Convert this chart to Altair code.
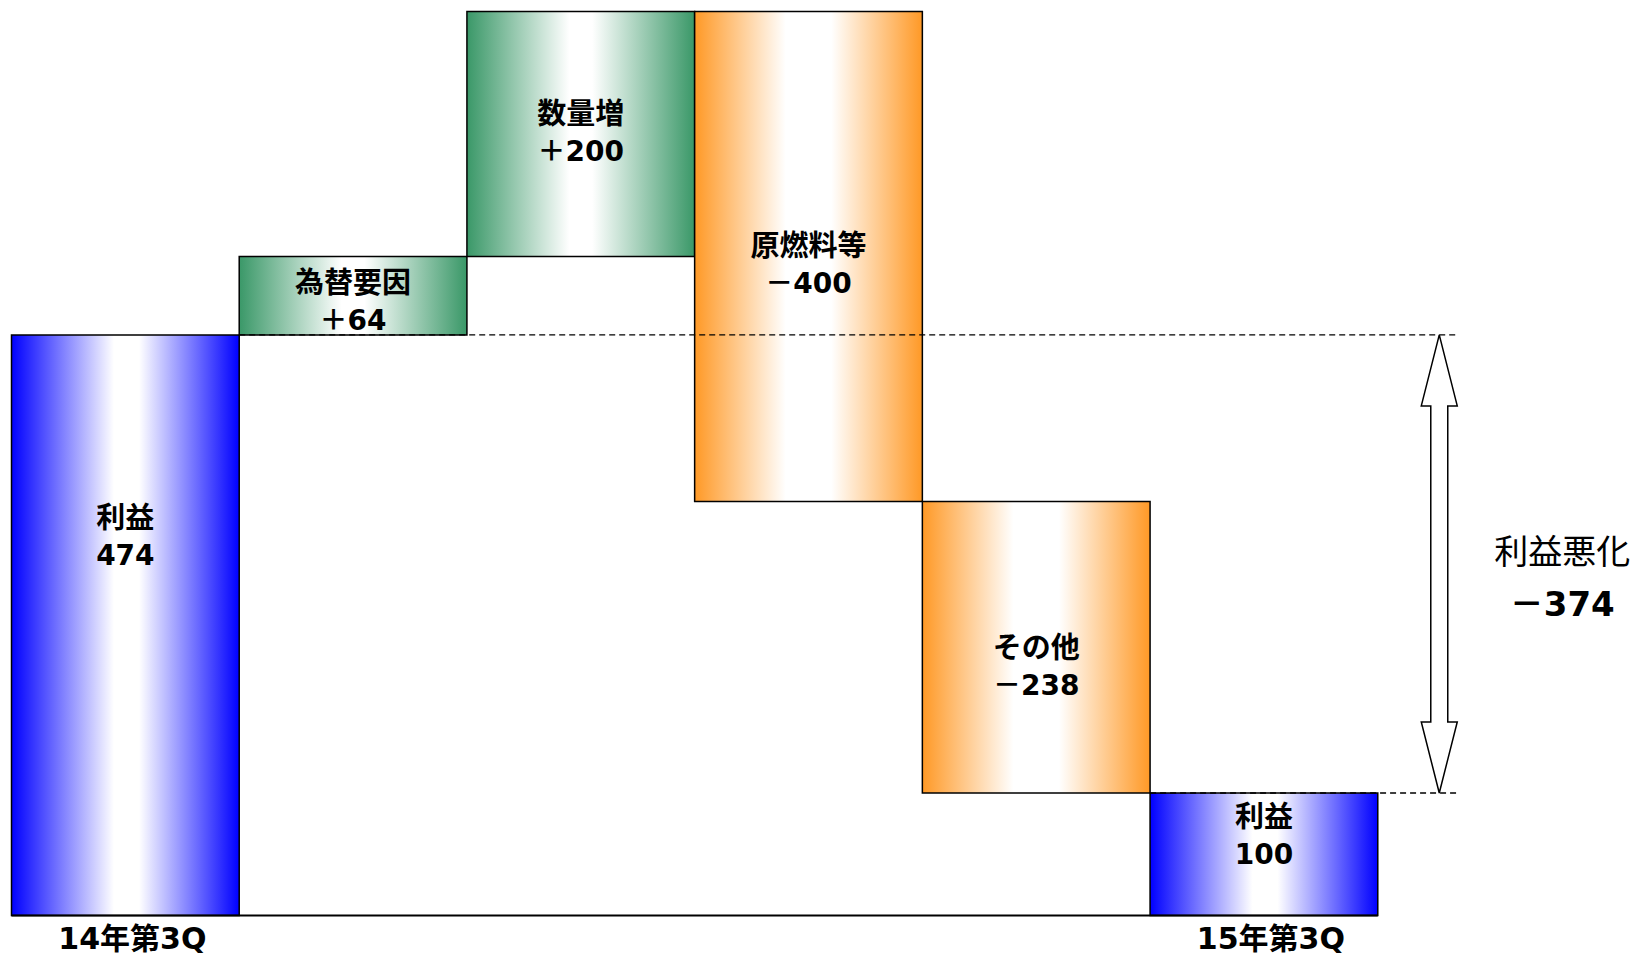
import altair as alt
import pandas as pd

# ---- data ----
categories = ["利益", "為替要因", "数量増", "原燃料等", "その他", "利益"]
values = [474, 64, 200, -400, -238, 100]
kinds = ["total", "up", "up", "down", "down", "total"]
value_labels = ["474", "＋64", "＋200", "－400", "－238", "100"]
period_labels = ["14年第3Q", "", "", "", "", "15年第3Q"]
summary_title = "利益悪化"

# ---- layout constants ----
LABEL_FRAC = [0.65, 0.41, 0.5, 0.48, 0.43, 0.64]   # where the label sits inside each bar
ARROW_X = 6.27          # arrow position (in bar units)
DASH_END = 6.345
TEXT_X = 6.81
HEAD_HALF = 0.079       # arrow head half width (bar units)
SHAFT_HALF = 0.0373     # arrow shaft half width (bar units)
HEAD_LEN = 58           # arrow head length (value units)
FONT = "DejaVu Sans, Noto Sans CJK JP"
CJK_FONT = "Noto Sans CJK JP"

# ---- build waterfall table ----
rows = []
running = 0
for i, (c, v, k, vl, pl, fr) in enumerate(
        zip(categories, values, kinds, value_labels, period_labels, LABEL_FRAC)):
    if k == "total":
        lo, hi = 0, v
        running = v
    else:
        start, end = running, running + v
        lo, hi = min(start, end), max(start, end)
        running = end
    rows.append(dict(i=i, x0=i, x1=i + 1, xc=i + 0.5, lo=lo, hi=hi, kind=k,
                     name=c, vlabel=vl, period=pl, ly=lo + fr * (hi - lo)))
df = pd.DataFrame(rows)

first_total = values[0]
last_total = values[-1]
diff = last_total - first_total
diff_label = ("－" if diff < 0 else "＋") + str(abs(diff))

xs = alt.Scale(domain=[0, 7], nice=False, zero=False)
ys = alt.Scale(domain=[0, 738], nice=False, zero=False)

base = alt.Chart(df)


def grad(col, lo_w, hi_w):
    return alt.Gradient(
        gradient="linear", x1=0, x2=1, y1=0, y2=0,
        stops=[alt.GradientStop(color=col, offset=0),
               alt.GradientStop(color="#FFFFFF", offset=lo_w),
               alt.GradientStop(color="#FFFFFF", offset=hi_w),
               alt.GradientStop(color=col, offset=1)])


grads = {
    "total": grad("#0000FF", 0.45, 0.56),
    "up": grad("#3A9868", 0.45, 0.55),
    "down": grad("#FF9926", 0.40, 0.60),
}

bars = []
for k, g in grads.items():
    bars.append(
        base.transform_filter(alt.datum.kind == k)
        .mark_bar(color=g, stroke="black", strokeWidth=1.5)
        .encode(x=alt.X("x0:Q", scale=xs, axis=None), x2="x1:Q",
                y=alt.Y("lo:Q", scale=ys, axis=None), y2="hi:Q")
    )

# baseline
baseline_df = pd.DataFrame({"a": [0], "b": [len(values)], "y": [0]})
baseline = alt.Chart(baseline_df).mark_rule(color="black", strokeWidth=2).encode(
    x=alt.X("a:Q", scale=xs), x2="b:Q", y=alt.Y("y:Q", scale=ys))

# dashed reference lines
dash_df = pd.DataFrame({
    "a": [1, len(values) - 1],
    "b": [DASH_END, DASH_END],
    "y": [first_total, last_total],
})
dashes = alt.Chart(dash_df).mark_rule(
    color="black", strokeWidth=1.4, strokeDash=[6, 4]).encode(
    x=alt.X("a:Q", scale=xs), x2="b:Q", y=alt.Y("y:Q", scale=ys))

# hollow double arrow
top, bot = first_total, last_total
pts = [
    (ARROW_X, top),
    (ARROW_X + HEAD_HALF, top - HEAD_LEN),
    (ARROW_X + SHAFT_HALF, top - HEAD_LEN),
    (ARROW_X + SHAFT_HALF, bot + HEAD_LEN),
    (ARROW_X + HEAD_HALF, bot + HEAD_LEN),
    (ARROW_X, bot),
    (ARROW_X - HEAD_HALF, bot + HEAD_LEN),
    (ARROW_X - SHAFT_HALF, bot + HEAD_LEN),
    (ARROW_X - SHAFT_HALF, top - HEAD_LEN),
    (ARROW_X - HEAD_HALF, top - HEAD_LEN),
    (ARROW_X, top),
]
arrow_df = pd.DataFrame({"x": [p[0] for p in pts], "y": [p[1] for p in pts],
                         "o": list(range(len(pts)))})
arrow = alt.Chart(arrow_df).mark_line(color="black", strokeWidth=1.5).encode(
    x=alt.X("x:Q", scale=xs), y=alt.Y("y:Q", scale=ys), order="o:Q")

# bar labels
name_text = base.mark_text(font=CJK_FONT, fontSize=29, fontWeight="bold",
                           color="black", dy=-19).encode(
    x=alt.X("xc:Q", scale=xs), y=alt.Y("ly:Q", scale=ys), text="name:N")
val_text = base.mark_text(font=FONT, fontSize=28, fontWeight="bold",
                          color="black", dy=19).encode(
    x=alt.X("xc:Q", scale=xs), y=alt.Y("ly:Q", scale=ys), text="vlabel:N")

# period labels under the totals
period_text = base.transform_filter(alt.datum.period != "").mark_text(
    font=FONT, fontSize=30, fontWeight="bold", color="black", dy=24, dx=7).encode(
    x=alt.X("xc:Q", scale=xs), y=alt.value(904), text="period:N")

# summary annotation
sum_df = pd.DataFrame({"x": [TEXT_X], "y": [(first_total + last_total) / 2],
                       "t1": [summary_title], "t2": [diff_label]})
sum1 = alt.Chart(sum_df).mark_text(font=CJK_FONT, fontSize=34, color="black",
                                   dy=-10).encode(
    x=alt.X("x:Q", scale=xs), y=alt.Y("y:Q", scale=ys), text="t1:N")
sum2 = alt.Chart(sum_df).mark_text(font=FONT, fontSize=34, fontWeight="bold",
                                   color="black", dy=42).encode(
    x=alt.X("x:Q", scale=xs), y=alt.Y("y:Q", scale=ys), text="t2:N")

chart = alt.layer(
    *bars, baseline, dashes, arrow, name_text, val_text, period_text, sum1, sum2
).properties(
    width=1594, height=904,
    padding={"left": 2.5, "top": 2.5, "right": 0, "bottom": 0},
).configure(background="white").configure_view(stroke=None, strokeWidth=0)

chart.save("out.html", embed_options={"renderer": "svg", "actions": False})
